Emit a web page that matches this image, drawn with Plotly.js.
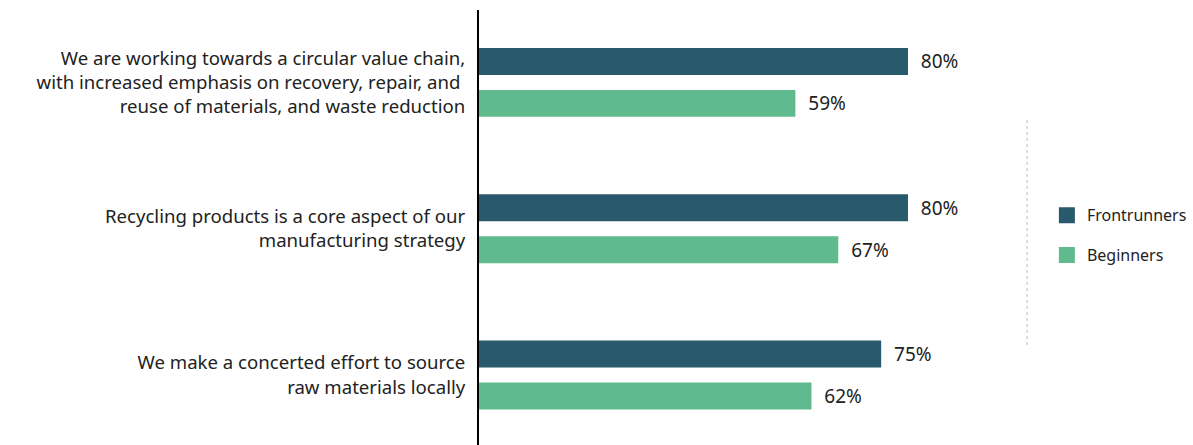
<!DOCTYPE html>
<html>
<head>
<meta charset="utf-8">
<script src="https://cdn.plot.ly/plotly-3.0.1.min.js"></script>
<style>html,body{margin:0;padding:0;background:#fff;}#chart{width:1193px;height:445px;}</style>
</head>
<body>
<div id="chart"></div>
<script>
const categories = [
  "We are working towards a circular value chain,<br>with increased emphasis on recovery, repair, and <br>reuse of materials, and waste reduction",
  "Recycling products is a core aspect of our<br>manufacturing strategy",
  "We make a concerted effort to source<br>raw materials locally"
];
const seriesNames = ["Frontrunners", "Beginners"];
const frontrunners = [80, 80, 75];
const beginners = [59, 67, 62];
const colors = ["#29596d", "#5fba8e"];
const FONT = "'Noto Sans', 'Open Sans', sans-serif";

function barTrace(name, values, color) {
  return {
    type: "bar", orientation: "h", name: name,
    y: categories, x: values,
    marker: {color: color},
    text: values.map(v => "  " + v + "%"),
    textposition: "outside",
    textfont: {family: FONT, size: 19, color: "#222"},
    cliponaxis: false,
    showlegend: false,
    hoverinfo: "skip"
  };
}
function legendTrace(name, color) {
  return {
    type: "scatter", mode: "markers", name: name,
    legendgroup: name,
    x: [null], y: [null],
    marker: {symbol: "square", size: 18, color: color},
    showlegend: true
  };
}

const data = [
  barTrace(seriesNames[0], frontrunners, colors[0]),
  barTrace(seriesNames[1], beginners, colors[1]),
  legendTrace(seriesNames[0], colors[0]),
  legendTrace(seriesNames[1], colors[1])
];

const layout = {
  width: 1193, height: 445,
  margin: {l: 479, r: 193, t: 10, b: 0, pad: 0},
  paper_bgcolor: "#fff", plot_bgcolor: "#fff",
  font: {family: FONT, size: 18, color: "#222"},
  barmode: "group",
  bargap: 0.427,
  bargroupgap: 0.357,
  xaxis: {range: [0, 97.16], showgrid: false, zeroline: false, showticklabels: false, ticks: "", showline: false, fixedrange: true},
  yaxis: {
    type: "category",
    categoryorder: "array", categoryarray: categories,
    range: [2.478, -0.495],
    showline: true, linecolor: "#000", linewidth: 2,
    showgrid: false, zeroline: false,
    ticks: "", ticklabelstandoff: 8,
    tickfont: {family: FONT, size: 18.6, color: "#222"}
  },
  legend: {
    x: 1.09, xanchor: "left", y: 0.482, yanchor: "middle",
    font: {family: FONT, size: 16, color: "#222"},
    tracegroupgap: 16, itemsizing: "trace",
    bgcolor: "rgba(0,0,0,0)"
  },
  shapes: [{
    type: "line", xref: "paper", yref: "paper",
    x0: 1.052, x1: 1.052, y0: 0.23, y1: 0.754,
    line: {color: "#bbbbbb", width: 1, dash: "dot"}
  }]
};

Plotly.newPlot("chart", data, layout, {displayModeBar: false, staticPlot: true});
</script>
</body>
</html>
